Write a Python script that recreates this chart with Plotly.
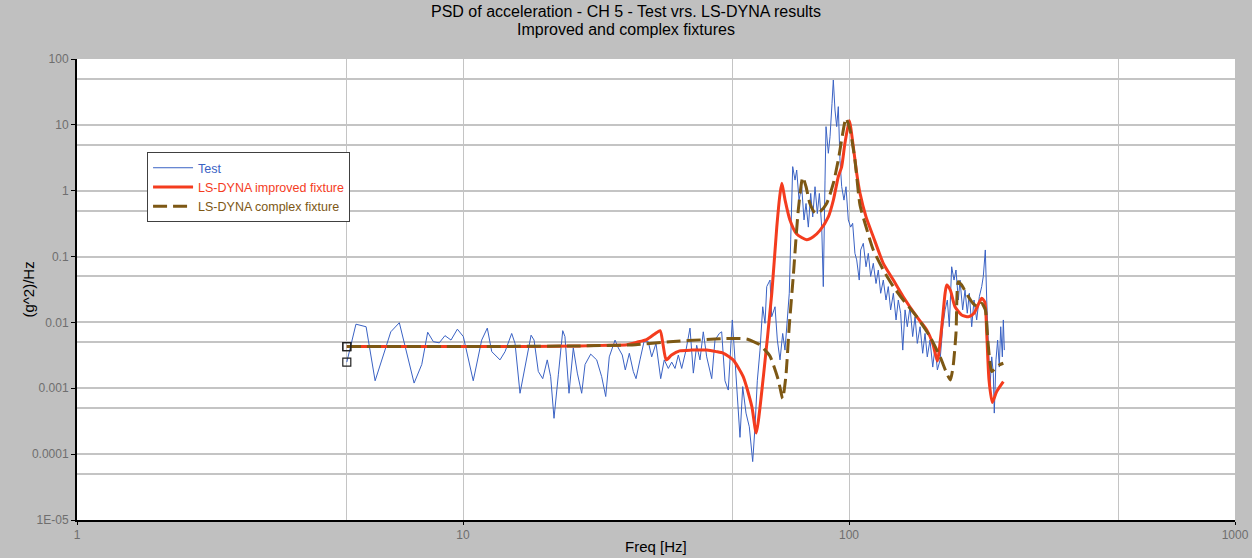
import plotly.graph_objects as go

# Measured PSD (Test) - frequency [Hz] and PSD [(g^2)/Hz]
test_freq = [
    5.0, 5.28, 5.61, 5.92, 6.22, 6.50, 6.84, 7.47, 7.82, 8.10, 8.38, 8.68, 8.98, 9.31, 9.67,
    10.02, 10.63, 11.18, 11.56, 11.87, 12.47, 12.85, 13.37, 13.64, 14.05, 14.68, 15.01, 15.28,
    15.67, 16.09, 16.53, 16.87, 17.21, 17.66, 18.13, 18.37, 18.82, 19.31, 19.78, 20.30, 20.71,
    21.42, 22.20, 22.87, 23.43, 23.93, 24.77, 25.26, 25.86, 26.33, 26.97, 27.62, 28.07, 28.74,
    29.44, 30.20, 30.82, 31.62, 32.52, 33.22, 34.03, 34.73, 35.42, 36.13, 36.86, 37.82, 38.73,
    39.51, 40.31, 41.11, 41.93, 42.79, 44.09, 44.96, 46.13, 46.79, 47.72, 48.67, 49.85, 50.66,
    51.36, 52.19, 53.04, 54.10, 55.17, 56.30, 57.08, 57.87, 58.81, 59.77, 60.60, 61.22, 62.43,
    63.06, 64.32, 65.21, 66.26, 67.33, 68.26, 69.21, 70.03, 70.63, 71.47, 72.47, 73.20, 74.22,
    75.42, 76.47, 77.39, 78.46, 79.58, 80.54, 81.65, 82.78, 83.78, 84.98, 85.79, 86.67, 87.19,
    88.40, 89.30, 90.36, 91.07, 91.98, 92.92, 93.82, 94.77, 95.74, 97.05, 98.22, 99.59, 101.0,
    102.2, 103.6, 104.7, 106.3, 107.2, 108.9, 110.7, 112.2, 113.8, 115.6, 117.5, 119.1, 120.8,
    122.7, 124.7, 126.4, 128.2, 130.3, 132.4, 134.2, 136.1, 137.8, 139.7, 141.6, 143.9, 146.2,
    148.3, 150.3, 152.8, 155.2, 157.4, 159.5, 162.1, 164.8, 167.1, 169.4, 172.2, 174.9, 177.4,
    179.8, 181.9, 184.5, 187.1, 189.3, 192.0, 193.9, 197.0, 199.8, 202.5, 205.0, 207.9, 210.8,
    214.2, 217.6, 220.7, 222.8, 225.5, 227.4, 229.6, 231.9, 234.3, 236.5, 237.9, 240.3, 242.7,
    245.1, 247.2, 249.6, 251.1, 252.6,
]
test_psd = [
    0.0025, 0.0094, 0.0086, 0.0013, 0.0032, 0.0072, 0.0099, 0.0012, 0.0023, 0.0071, 0.0051,
    0.0049, 0.0063, 0.0054, 0.0079, 0.0061, 0.0013, 0.0054, 0.0082, 0.0036, 0.0027, 0.0036,
    0.0068, 0.0048, 0.00084, 0.0034, 0.0064, 0.0054, 0.0018, 0.0014, 0.0027, 0.0015, 0.00035,
    0.0016, 0.0075, 0.0061, 0.00084, 0.0041, 0.0017, 0.00084, 0.0023, 0.0033, 0.0027, 0.0015,
    0.00075, 0.0030, 0.0054, 0.0041, 0.0032, 0.0019, 0.0034, 0.0018, 0.0014, 0.0027, 0.0051,
    0.0051, 0.0030, 0.0048, 0.0014, 0.0027, 0.0020, 0.0025, 0.0020, 0.0032, 0.0020, 0.0038,
    0.0082, 0.0017, 0.0045, 0.0027, 0.0072, 0.0030, 0.0014, 0.0054, 0.0068, 0.0072, 0.0013,
    0.00094, 0.0109, 0.0027, 0.00084, 0.00018, 0.00106, 0.00042, 0.00026, 0.000077, 0.00026,
    0.0013, 0.0038, 0.0173, 0.0097, 0.035, 0.044, 0.0122, 0.0173, 0.0054, 0.0027, 0.0068,
    0.0038, 0.0138, 0.0277, 0.179, 2.32, 1.45, 2.06, 0.72, 1.15, 0.36, 0.64, 0.28, 0.91, 0.40,
    1.15, 0.45, 0.91, 0.28, 0.035, 1.45, 9.4, 3.7, 6.6, 21.2, 48.0, 16.8, 9.4, 18.9, 2.9, 1.15,
    0.72, 1.15, 0.36, 0.28, 0.32, 0.112, 0.089, 0.044, 0.126, 0.159, 0.070, 0.112, 0.050,
    0.079, 0.039, 0.0625, 0.0277, 0.044, 0.0219, 0.035, 0.0155, 0.0277, 0.0109, 0.0219,
    0.0138, 0.0038, 0.0155, 0.0086, 0.0173, 0.0061, 0.0122, 0.0048, 0.0086, 0.0034, 0.0068,
    0.0030, 0.0054, 0.0021, 0.0043, 0.0019, 0.0027, 0.0086, 0.0155, 0.0219, 0.0086, 0.070,
    0.044, 0.0625, 0.0219, 0.044, 0.0155, 0.031, 0.0138, 0.0277, 0.0086, 0.0219, 0.0109,
    0.0246, 0.035, 0.050, 0.126, 0.0219, 0.0054, 0.00106, 0.0030, 0.0017, 0.00042, 0.0027,
    0.0054, 0.0021, 0.0086, 0.0030, 0.0109, 0.0038,
]

# LS-DYNA, improved fixture
improved_freq = [
    5.0, 10.0, 15.0, 20.0, 24.0, 26.6, 28.2, 29.9, 31.3, 32.4, 33.0, 33.6, 34.7, 36.4, 39.0,
    42.8, 45.3, 47.3, 50.1, 53.2, 56.0, 57.5, 60.0, 63.1, 65.0, 66.3, 67.0, 68.3, 70.3, 73.2,
    77.7, 80.8, 84.1, 88.4, 91.1, 93.8, 95.7, 97.6, 100.2, 102.6, 104.7, 106.8, 110.7, 115.6,
    122.7, 130.3, 138.2, 149.8, 159.0, 164.8, 169.4, 173.9, 177.4, 179.1, 183.0, 188.2, 195.8,
    204.0, 210.8, 220.7, 224.7, 227.4, 230.5, 235.1, 241.3, 251.1,
]
improved_psd = [
    0.0043, 0.0043, 0.0043, 0.0044, 0.0045, 0.0046, 0.0050, 0.0055, 0.0066, 0.0075, 0.0045,
    0.0027, 0.0032, 0.0037, 0.0038, 0.0038, 0.0036, 0.0034, 0.0027, 0.0015, 0.00053, 0.00021,
    0.0015, 0.028, 0.28, 0.91, 1.30, 0.72, 0.36, 0.22, 0.18, 0.20, 0.25, 0.40, 0.72, 1.63, 2.3,
    5.25, 11.5, 4.66, 1.84, 0.91, 0.40, 0.20, 0.079, 0.044, 0.0246, 0.0122, 0.0077, 0.0048,
    0.0026, 0.0086, 0.0277, 0.037, 0.031, 0.0173, 0.0130, 0.0122, 0.0138, 0.0232, 0.0205,
    0.0068, 0.00134, 0.00061, 0.00089, 0.00126,
]

# LS-DYNA, complex fixture
complex_freq = [
    5.0, 10.0, 20.0, 28.0, 34.3, 42.8, 47.3, 52.2, 54.3, 56.6, 58.8, 60.6, 62.4, 65.6, 67.3,
    68.6, 70.0, 71.7, 73.9, 75.9, 77.4, 79.2, 81.65, 84.1, 87.5, 91.1, 93.8, 95.7, 98.2, 100.6,
    103.6, 106.8, 110.7, 115.6, 122.7, 130.3, 138.2, 149.8, 162.1, 172.2, 179.1, 183.0, 186.0,
    189.3, 192.0, 195.8, 201.4, 209.5, 215.8, 220.7, 225.5, 228.9, 231.9, 234.3, 239.1, 245.1,
    251.1,
]
complex_psd = [
    0.0043, 0.0043, 0.0044, 0.0046, 0.0051, 0.0055, 0.0057, 0.0057, 0.0056, 0.0051, 0.0046,
    0.0038, 0.0031, 0.00134, 0.0007, 0.0015, 0.0086, 0.0495, 0.51, 1.60, 1.15, 0.64, 0.46,
    0.48, 0.64, 1.30, 2.93, 5.9, 12.6, 8.4, 2.93, 0.60, 0.284, 0.126, 0.0625, 0.035, 0.0219,
    0.0122, 0.0061, 0.0030, 0.00169, 0.00134, 0.0021, 0.0068, 0.0416, 0.037, 0.0277, 0.0195,
    0.0173, 0.0195, 0.0155, 0.0054, 0.0024, 0.00179, 0.0020, 0.00226, 0.0024,
]

title_lines = ["PSD of acceleration - CH 5 - Test vrs. LS-DYNA results", "Improved and complex fixtures"]
x_title = "Freq [Hz]"
y_title = "(g^2)/Hz"

x_tick_vals = [1, 10, 100, 1000]
x_tick_text = ["1", "10", "100", "1000"]
x_minor_vals = [5, 50, 500]
y_tick_vals = [100, 10, 1, 0.1, 0.01, 0.001, 0.0001, 0.00001]
y_tick_text = ["100", "10", "1", "0.1", "0.01", "0.001", "0.0001", "1E-05"]
y_minor_vals = [50, 5, 0.5, 0.05, 0.005, 0.0005, 0.00005]

BLUE = "#3a62c4"
RED = "#f43c1e"
BROWN = "#7d5814"
GRID = "#c4c4c4"
FONT = "Liberation Sans, Arial, sans-serif"

fig = go.Figure()

fig.add_trace(go.Scatter(
    x=test_freq, y=test_psd, mode="lines",
    name=f'<span style="color:{BLUE}">Test</span>',
    line=dict(color=BLUE, width=1),
))
fig.add_trace(go.Scatter(
    x=improved_freq, y=improved_psd, mode="lines",
    name=f'<span style="color:{RED}">LS-DYNA improved fixture</span>',
    line=dict(color=RED, width=3, shape="spline", smoothing=0.6),
))
fig.add_trace(go.Scatter(
    x=complex_freq, y=complex_psd, mode="lines",
    name=f'<span style="color:{BROWN}">LS-DYNA complex fixture</span>',
    line=dict(color=BROWN, width=3, dash="14px,6px", shape="spline", smoothing=0.6),
))

# open square markers on the first sample of each series
for fx, fy in [(test_freq, test_psd), (improved_freq, improved_psd), (complex_freq, complex_psd)]:
    fig.add_trace(go.Scatter(
        x=[fx[0]], y=[fy[0]], mode="markers", showlegend=False, hoverinfo="skip",
        marker=dict(symbol="square-open", size=8, color="#222222", line=dict(width=1.2)),
    ))

# two-line chart title, centred on the figure
for line_text, y_pos in zip(title_lines, [1.102, 1.063]):
    fig.add_annotation(
        text=line_text, xref="paper", yref="paper",
        x=0.474, y=y_pos, xanchor="center", yanchor="middle",
        showarrow=False, font=dict(size=16, family=FONT, color="black"),
    )

# axis titles
fig.add_annotation(
    text=x_title, xref="paper", yref="paper", x=0.5, y=-0.057,
    xanchor="center", yanchor="middle", showarrow=False,
    font=dict(size=15, family=FONT, color="black"),
)
fig.add_annotation(
    text=y_title, xref="paper", yref="paper", x=-0.0423, y=0.50, textangle=-90,
    xanchor="center", yanchor="middle", showarrow=False,
    font=dict(size=15, family=FONT, color="black"),
)

fig.update_layout(
    width=1252, height=558, autosize=False,
    margin=dict(l=77, r=17, t=59, b=38, autoexpand=False),
    paper_bgcolor="#c0c0c0", plot_bgcolor="white",
    font=dict(family=FONT, color="black"),
    legend=dict(
        x=0.0605, y=0.798, xanchor="left", yanchor="top",
        bgcolor="white", bordercolor="#404040", borderwidth=1,
        font=dict(size=12.5, family=FONT),
        itemwidth=40, tracegroupgap=0,
    ),
    showlegend=True,
)

fig.update_xaxes(
    type="log", range=[0, 3], automargin=False,
    tickvals=x_tick_vals, ticktext=x_tick_text,
    tickfont=dict(size=12, color="#6e6e6e", family=FONT),
    showgrid=True, gridcolor=GRID, gridwidth=1,
    minor=dict(tickvals=x_minor_vals, showgrid=True, gridcolor=GRID, gridwidth=1, ticklen=0),
    showline=True, linecolor="black", linewidth=2,
    ticks="outside", ticklen=3, tickcolor="black",
    zeroline=False,
)
fig.update_yaxes(
    type="log", range=[-5, 2], automargin=False,
    tickvals=y_tick_vals, ticktext=y_tick_text,
    tickfont=dict(size=12, color="#6e6e6e", family=FONT),
    showgrid=True, gridcolor=GRID, gridwidth=1.5,
    minor=dict(tickvals=y_minor_vals, showgrid=True, gridcolor=GRID, gridwidth=1.5, ticklen=0),
    showline=True, linecolor="black", linewidth=2,
    ticks="outside", ticklen=4, tickcolor="black",
    zeroline=False,
)

fig.write_html("out.html")
